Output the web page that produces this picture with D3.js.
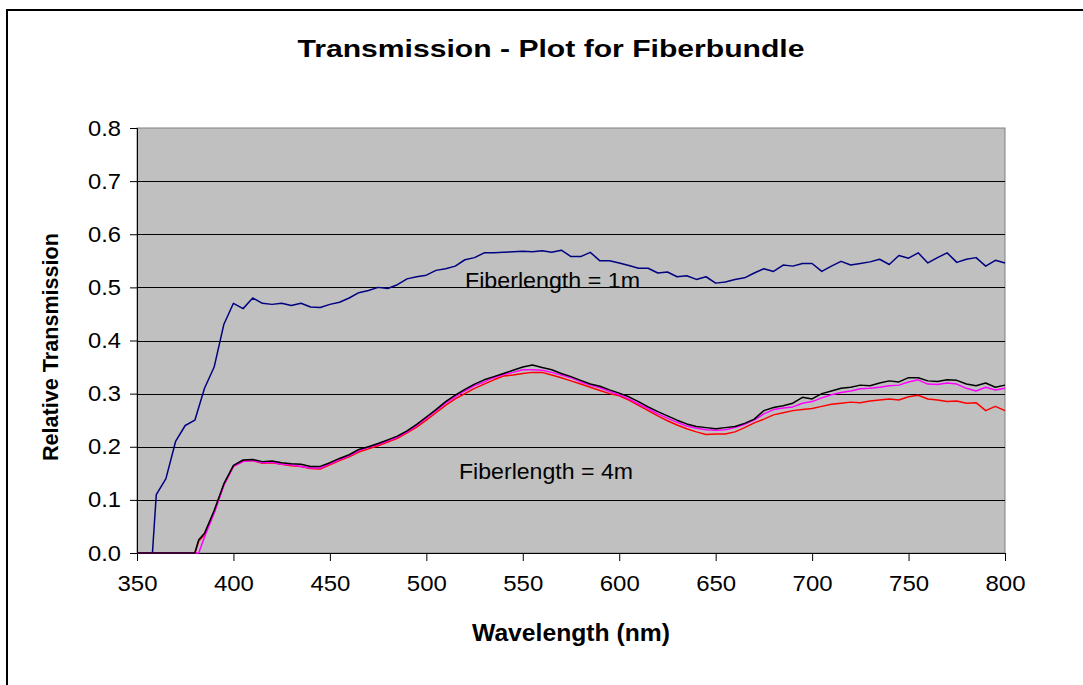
<!DOCTYPE html>
<meta charset="utf-8">
<script src="https://d3js.org/d3.v7.min.js"></script>
<style>
  body { margin: 0; background: #fff; }
  text { font-family: "Liberation Sans", Arial, sans-serif; }
</style>
<svg width="1083" height="685"></svg>
<script>
// wavelengths (nm) and measured relative transmission
var wl1m = [350,355,358,360,365,370,375,380,385,390,395,400,405,410,415,420,425,430,435,440,445,450,455,460,465,470,475,480,485,490,495,500,505,510,515,520,525,530,535,540,545,550,555,560,565,570,575,580,585,590,595,600,605,610,615,620,625,630,635,640,645,650,655,660,665,670,675,680,685,690,695,700,705,710,715,720,725,730,735,740,745,750,755,760,765,770,775,780,785,790,795,800];
var fiber1m = [0,0,0,0.11,0.14,0.21,0.24,0.25,0.31,0.35,0.43,0.47,0.46,0.48,0.47,0.468,0.47,0.466,0.47,0.463,0.462,0.468,0.472,0.48,0.49,0.494,0.5,0.498,0.505,0.516,0.52,0.523,0.532,0.535,0.54,0.552,0.556,0.565,0.565,0.566,0.567,0.568,0.567,0.569,0.566,0.57,0.558,0.558,0.566,0.55,0.55,0.546,0.541,0.536,0.536,0.527,0.529,0.52,0.522,0.515,0.52,0.508,0.51,0.515,0.518,0.527,0.535,0.53,0.542,0.54,0.545,0.545,0.53,0.54,0.549,0.542,0.545,0.548,0.553,0.543,0.56,0.555,0.565,0.546,0.556,0.565,0.547,0.553,0.556,0.54,0.551,0.546];

var wl4m = [350,355,360,365,370,375,380,382,385,390,395,400,405,410,415,420,425,430,435,440,445,450,455,460,465,470,475,480,485,490,495,500,505,510,515,520,525,530,535,540,545,550,555,560,565,570,575,580,585,590,595,600,605,610,615,620,625,630,635,640,645,650,655,660,665,670,675,680,685,690,695,700,705,710,715,720,725,730,735,740,745,750,755,760,765,770,775,780,785,790,795,800];
var fiber4mA = [0,0,0,0,0,0,0,0.025,0.037,0.08,0.13,0.165,0.175,0.176,0.172,0.173,0.17,0.168,0.167,0.163,0.163,0.17,0.178,0.185,0.195,0.2,0.206,0.213,0.22,0.23,0.242,0.256,0.27,0.285,0.297,0.308,0.318,0.326,0.332,0.338,0.344,0.35,0.354,0.349,0.345,0.338,0.332,0.325,0.318,0.314,0.307,0.301,0.294,0.285,0.275,0.266,0.258,0.25,0.243,0.238,0.236,0.234,0.236,0.238,0.244,0.252,0.268,0.274,0.277,0.282,0.293,0.29,0.3,0.305,0.31,0.312,0.316,0.315,0.32,0.324,0.322,0.33,0.33,0.324,0.323,0.326,0.325,0.318,0.315,0.32,0.312,0.316];
var fiber4mB = [0,0,0,0,0,0,0,0,0.03,0.075,0.127,0.163,0.172,0.174,0.17,0.171,0.167,0.166,0.163,0.16,0.16,0.168,0.176,0.183,0.193,0.199,0.204,0.211,0.218,0.228,0.24,0.254,0.268,0.282,0.294,0.305,0.315,0.322,0.33,0.336,0.34,0.345,0.345,0.344,0.34,0.335,0.33,0.322,0.316,0.311,0.304,0.298,0.29,0.281,0.272,0.262,0.254,0.246,0.239,0.235,0.232,0.231,0.232,0.236,0.242,0.25,0.262,0.27,0.273,0.275,0.282,0.285,0.292,0.298,0.302,0.305,0.309,0.31,0.312,0.315,0.316,0.322,0.326,0.318,0.317,0.32,0.318,0.31,0.305,0.312,0.307,0.31];
var fiber4mC = [0,0,0,0,0,0,0,0.022,0.035,0.077,0.128,0.163,0.173,0.174,0.169,0.17,0.167,0.164,0.163,0.159,0.158,0.166,0.174,0.181,0.19,0.196,0.202,0.209,0.216,0.226,0.237,0.25,0.264,0.278,0.29,0.3,0.31,0.318,0.326,0.333,0.335,0.338,0.34,0.34,0.335,0.33,0.324,0.318,0.312,0.306,0.3,0.296,0.288,0.278,0.268,0.258,0.249,0.241,0.234,0.228,0.223,0.224,0.224,0.228,0.236,0.245,0.252,0.26,0.264,0.268,0.27,0.272,0.276,0.28,0.282,0.284,0.283,0.286,0.288,0.29,0.288,0.294,0.297,0.29,0.288,0.285,0.286,0.282,0.283,0.268,0.276,0.268];

var xTicks = [350,400,450,500,550,600,650,700,750,800];
var yTicks = [0,0.1,0.2,0.3,0.4,0.5,0.6,0.7,0.8];

var svg = d3.select("svg");
var plotLeft = 137, plotRight = 1005, plotTop = 128, plotBottom = 553;

// outer frame
svg.append("rect")
    .attr("x", 7).attr("y", 10)
    .attr("width", 1090).attr("height", 700)
    .attr("fill", "none").attr("stroke", "#000").attr("stroke-width", 2);

var x = d3.scaleLinear().domain([350, 800]).range([plotLeft, plotRight]);
var y = d3.scaleLinear().domain([0, 0.8]).range([plotBottom, plotTop]);

// plot area
svg.append("rect")
    .attr("x", plotLeft).attr("y", plotTop)
    .attr("width", plotRight - plotLeft).attr("height", plotBottom - plotTop)
    .attr("fill", "#c0c0c0").attr("stroke", "#808080").attr("stroke-width", 1);

// gridlines
svg.append("g")
    .selectAll("line")
    .data(yTicks.slice(1, -1))
    .enter().append("line")
    .attr("x1", plotLeft).attr("x2", plotRight)
    .attr("y1", function (d) { return Math.round(y(d)) + 0.5; })
    .attr("y2", function (d) { return Math.round(y(d)) + 0.5; })
    .attr("stroke", "#000").attr("stroke-width", 1);

// axes
var xAxis = svg.append("g")
    .attr("transform", "translate(0," + plotBottom + ")")
    .call(d3.axisBottom(x).tickValues(xTicks).tickSize(8).tickPadding(14).tickFormat(d3.format("d")));
var yAxis = svg.append("g")
    .attr("transform", "translate(" + plotLeft + ",0)")
    .call(d3.axisLeft(y).tickValues(yTicks).tickSize(7).tickPadding(9).tickFormat(d3.format(".1f")));

[xAxis, yAxis].forEach(function (a) {
    a.select(".domain").attr("stroke", "#000");
    a.selectAll(".tick line").attr("stroke", "#000");
    a.selectAll(".tick text")
        .attr("font-family", "Liberation Sans, Arial, sans-serif")
        .attr("font-size", 22).attr("fill", "#000");
});
xAxis.select(".domain").attr("d", "M" + plotLeft + ",0.5H" + plotRight);
xAxis.selectAll(".tick text").attr("textLength", 40).attr("lengthAdjust", "spacingAndGlyphs");
yAxis.selectAll(".tick text").attr("textLength", 33).attr("lengthAdjust", "spacingAndGlyphs");

// series
var line = d3.line()
    .x(function (d) { return x(d[0]); })
    .y(function (d) { return y(d[1]); });

function drawSeries(wl, vals, color) {
    svg.append("path")
        .datum(wl.map(function (w, i) { return [w, vals[i]]; }))
        .attr("fill", "none")
        .attr("stroke", color)
        .attr("stroke-width", 1.5)
        .attr("stroke-linejoin", "round")
        .attr("d", line);
}
drawSeries(wl1m, fiber1m, "#000080");
drawSeries(wl4m, fiber4mC, "#ff0000");
drawSeries(wl4m, fiber4mB, "#ff00ff");
drawSeries(wl4m, fiber4mA, "#000000");

// labels
svg.append("text")
    .attr("x", 551).attr("y", 57)
    .attr("text-anchor", "middle")
    .attr("font-size", 24).attr("font-weight", "bold")
    .attr("textLength", 507).attr("lengthAdjust", "spacingAndGlyphs")
    .text("Transmission - Plot for Fiberbundle");

svg.append("text")
    .attr("x", 571).attr("y", 641)
    .attr("text-anchor", "middle")
    .attr("font-size", 23).attr("font-weight", "bold")
    .attr("textLength", 198).attr("lengthAdjust", "spacingAndGlyphs")
    .text("Wavelength (nm)");

svg.append("text")
    .attr("transform", "translate(58,347) rotate(-90)")
    .attr("text-anchor", "middle")
    .attr("font-size", 22).attr("font-weight", "bold")
    .attr("textLength", 228).attr("lengthAdjust", "spacingAndGlyphs")
    .text("Relative Transmission");

svg.append("text")
    .attr("x", 465).attr("y", 288)
    .attr("font-size", 22)
    .attr("textLength", 175).attr("lengthAdjust", "spacingAndGlyphs")
    .text("Fiberlength = 1m");

svg.append("text")
    .attr("x", 459).attr("y", 479)
    .attr("font-size", 22)
    .attr("textLength", 174).attr("lengthAdjust", "spacingAndGlyphs")
    .text("Fiberlength = 4m");
</script>
